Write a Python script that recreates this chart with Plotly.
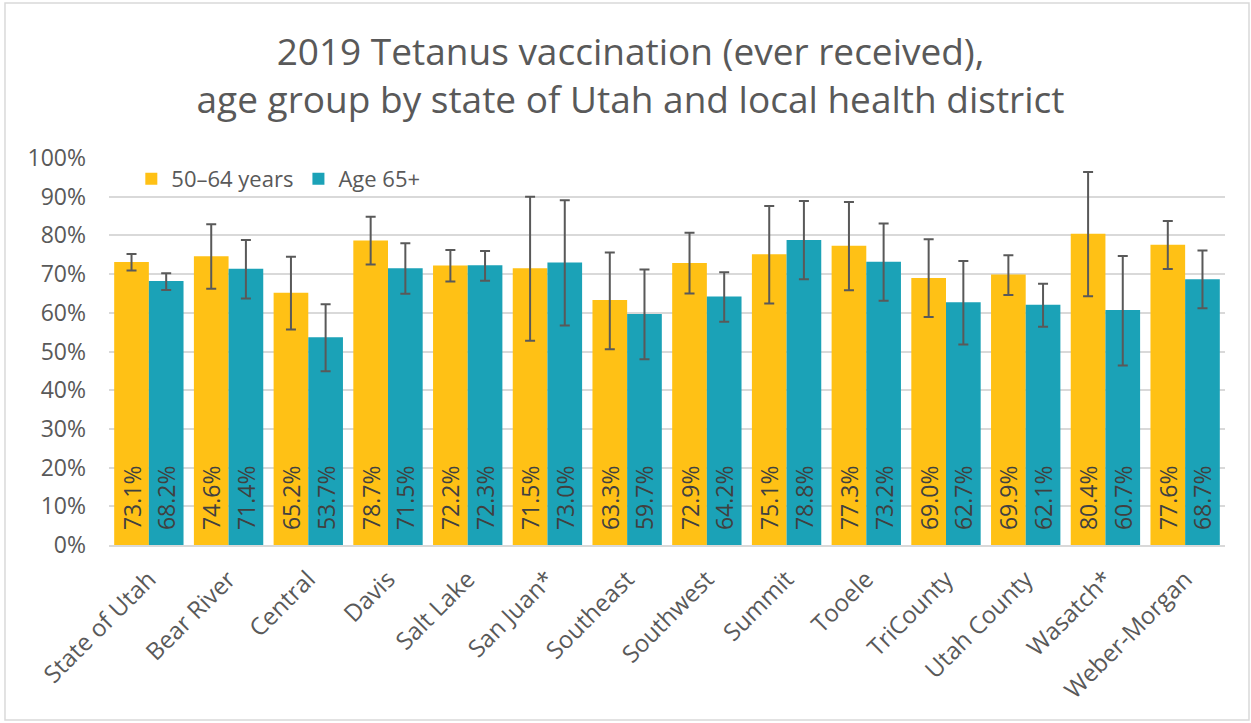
import plotly.graph_objects as go

districts = ["State of Utah", "Bear River", "Central", "Davis", "Salt Lake", "San Juan*",
             "Southeast", "Southwest", "Summit", "Tooele", "TriCounty", "Utah County",
             "Wasatch*", "Weber-Morgan"]

age_50_64 = [73.1, 74.6, 65.2, 78.7, 72.2, 71.5, 63.3, 72.9, 75.1, 77.3, 69.0, 69.9, 80.4, 77.6]
age_50_64_hi = [75.2, 82.9, 74.5, 84.8, 76.2, 90.0, 75.6, 80.7, 87.6, 88.6, 79.0, 74.9, 96.4, 83.7]
age_50_64_lo = [70.9, 66.2, 55.7, 72.5, 68.1, 52.8, 50.6, 65.0, 62.4, 65.8, 58.9, 64.6, 64.3, 71.3]

age_65 = [68.2, 71.4, 53.7, 71.5, 72.3, 73.0, 59.7, 64.2, 78.8, 73.2, 62.7, 62.1, 60.7, 68.7]
age_65_hi = [70.2, 78.8, 62.2, 78.0, 76.0, 89.1, 71.2, 70.5, 88.9, 83.1, 73.4, 67.5, 74.7, 76.1]
age_65_lo = [65.9, 63.7, 44.9, 64.9, 68.3, 56.7, 48.0, 57.7, 68.7, 63.1, 51.8, 56.4, 46.4, 61.2]

series_names = ["50–64 years", "Age 65+"]
colors = ["#FFC115", "#1BA2B7"]

FONT = "Open Sans"
GRAY = "#595959"
NB = "\u00a0"

fig = go.Figure()
for name, vals, hi, lo, col in [
    (series_names[0], age_50_64, age_50_64_hi, age_50_64_lo, colors[0]),
    (series_names[1], age_65, age_65_hi, age_65_lo, colors[1]),
]:
    fig.add_trace(go.Bar(
        name=name,
        x=districts,
        y=[v / 100 for v in vals],
        marker=dict(color=col, line=dict(width=0)),
        text=[f"{NB}{NB}{v:.1f}%" for v in vals],
        textposition="inside",
        insidetextanchor="start",
        textangle=-90,
        textfont=dict(family=FONT, size=23, color="#404040"),
        error_y=dict(
            type="data",
            symmetric=False,
            array=[(h - v) / 100 for h, v in zip(hi, vals)],
            arrayminus=[(v - l) / 100 for v, l in zip(vals, lo)],
            color=GRAY,
            thickness=2,
            width=5,
        ),
    ))

fig.update_layout(
    width=1251, height=723,
    margin=dict(l=109, r=26, t=158, b=178),
    paper_bgcolor="white",
    plot_bgcolor="white",
    barmode="group",
    bargap=0.13,
    bargroupgap=0,
    font=dict(family=FONT, color=GRAY),
    title=dict(
        text="2019 Tetanus vaccination (ever received),<br>age group by state of Utah and local health district",
        x=0.504, xanchor="center", y=0.91, yanchor="top",
        font=dict(family=FONT, size=37, color=GRAY),
    ),
    legend=dict(
        orientation="h",
        x=0.02, y=1.0, xanchor="left", yanchor="top",
        font=dict(family=FONT, size=22, color=GRAY),
        bgcolor="rgba(255,255,255,0)",
        traceorder="normal",
    ),
    uniformtext=dict(mode="show", minsize=23),
    shapes=[dict(
        type="rect", xref="paper", yref="paper",
        x0=-0.0932, x1=1.0215, y0=-0.452, y1=1.4005,
        line=dict(color="#D9D9D9", width=1.5), fillcolor="rgba(0,0,0,0)", layer="below",
    )],
)

fig.update_yaxes(
    range=[0, 1.0],
    tickvals=[i / 10 for i in range(11)],
    tickformat=".0%",
    gridcolor="#D9D9D9", gridwidth=1.5,
    zeroline=False,
    showline=False,
    tickfont=dict(family=FONT, size=23, color=GRAY),
    ticks="", ticklen=0,
    ticklabelstandoff=22,
)
fig.update_xaxes(
    tickangle=-45,
    tickfont=dict(family=FONT, size=24, color=GRAY),
    showline=True, linecolor="#D9D9D9", linewidth=1.5,
    ticks="",
    ticklabelstandoff=9,
)

fig.write_html(
    "out.html",
    config={"displayModeBar": False},
    post_script="document.body.style.margin='0px';document.body.style.overflow='hidden';",
)
